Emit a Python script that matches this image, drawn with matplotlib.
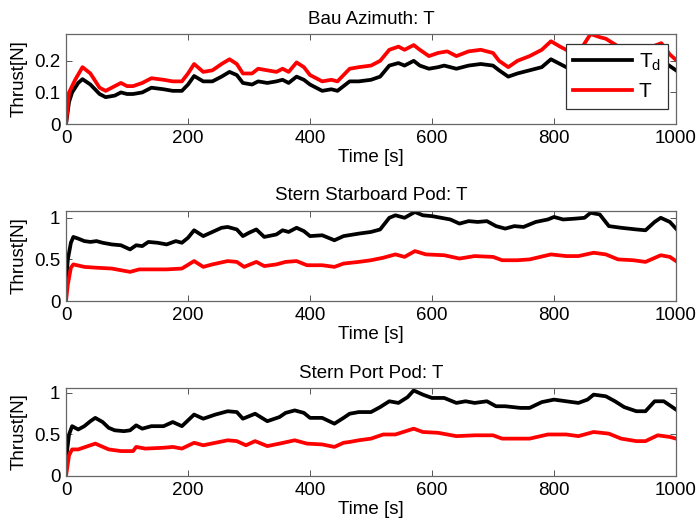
import matplotlib
matplotlib.use("Agg")
import matplotlib.pyplot as plt

plt.rcParams['font.family'] = ['Liberation Sans', 'DejaVu Sans']
plt.rcParams['font.size'] = 13.5

# Bau Azimuth: desired thrust (Td) and actual thrust (T)
bau_td_t = [0, 5, 10, 20, 27, 40, 55, 65, 80, 90, 100, 110, 125, 140, 160, 175, 190, 200,
            210, 225, 240, 255, 268, 280, 290, 305, 315, 330, 345, 355, 365, 378, 390, 400,
            420, 435, 445, 465, 480, 500, 515, 530, 545, 555, 570, 580, 595, 610, 620, 640,
            660, 680, 700, 710, 725, 740, 760, 780, 795, 810, 825, 845, 865, 885, 910, 940,
            965, 985, 1000]
bau_td = [0, 0.07, 0.10, 0.13, 0.142, 0.125, 0.095, 0.085, 0.09, 0.10, 0.095, 0.095, 0.10,
          0.115, 0.11, 0.105, 0.105, 0.125, 0.152, 0.135, 0.135, 0.15, 0.165, 0.155, 0.13,
          0.125, 0.135, 0.13, 0.135, 0.14, 0.13, 0.15, 0.14, 0.125, 0.105, 0.11, 0.105, 0.135,
          0.135, 0.14, 0.15, 0.185, 0.193, 0.185, 0.2, 0.185, 0.175, 0.18, 0.185, 0.175, 0.185,
          0.19, 0.185, 0.17, 0.15, 0.16, 0.17, 0.18, 0.205, 0.19, 0.175, 0.19, 0.215, 0.21,
          0.19, 0.18, 0.2, 0.19, 0.17]
bau_t_t = [0, 5, 15, 27, 40, 55, 65, 80, 90, 100, 110, 125, 140, 160, 175, 190, 200, 210,
           225, 240, 255, 268, 280, 290, 305, 315, 330, 345, 355, 365, 378, 390, 400, 420,
           435, 445, 465, 480, 500, 515, 530, 545, 555, 570, 580, 595, 610, 625, 640, 660,
           680, 700, 710, 725, 740, 760, 780, 795, 810, 825, 845, 860, 875, 885, 910, 940,
           976, 990, 1000]
bau_t = [0, 0.10, 0.14, 0.18, 0.16, 0.115, 0.105, 0.12, 0.13, 0.12, 0.12, 0.13, 0.145, 0.14,
         0.135, 0.135, 0.16, 0.19, 0.165, 0.17, 0.19, 0.205, 0.19, 0.16, 0.16, 0.175, 0.17,
         0.165, 0.175, 0.165, 0.195, 0.18, 0.155, 0.135, 0.14, 0.135, 0.175, 0.18, 0.185, 0.2,
         0.235, 0.245, 0.235, 0.25, 0.235, 0.215, 0.225, 0.23, 0.215, 0.23, 0.235, 0.225, 0.2,
         0.18, 0.2, 0.215, 0.235, 0.262, 0.245, 0.23, 0.24, 0.285, 0.275, 0.27, 0.24, 0.23,
         0.256, 0.22, 0.203]

# Stern Starboard Pod
sb_td_t = [0, 3, 8, 12, 20, 30, 40, 50, 60, 75, 90, 105, 115, 125, 135, 150, 165, 180, 190,
           200, 210, 225, 240, 255, 265, 280, 290, 300, 312, 325, 345, 355, 365, 378, 390,
           400, 420, 440, 455, 480, 500, 515, 530, 540, 555, 572, 585, 600, 615, 630, 645,
           660, 675, 690, 705, 720, 735, 750, 770, 790, 800, 815, 835, 850, 860, 875, 890,
           910, 935, 950, 965, 975, 990, 1000]
sb_td = [0.22, 0.5, 0.7, 0.77, 0.75, 0.72, 0.71, 0.72, 0.70, 0.68, 0.67, 0.62, 0.67, 0.66,
         0.71, 0.70, 0.68, 0.72, 0.70, 0.76, 0.85, 0.78, 0.83, 0.88, 0.89, 0.86, 0.78, 0.82,
         0.86, 0.77, 0.80, 0.85, 0.83, 0.88, 0.84, 0.78, 0.79, 0.73, 0.78, 0.81, 0.83, 0.86,
         1.0, 1.03, 1.0, 1.07, 1.03, 1.02, 1.0, 0.98, 0.93, 0.96, 0.95, 0.96, 0.90, 0.87,
         0.90, 0.89, 0.95, 0.98, 1.01, 0.98, 0.99, 1.0, 1.06, 1.04, 0.9, 0.88, 0.86, 0.85,
         0.95, 1.0, 0.95, 0.87]
sb_t_t = [0, 3, 8, 12, 30, 50, 75, 105, 120, 140, 165, 190, 210, 225, 240, 265, 280, 292,
          312, 325, 345, 360, 378, 395, 420, 440, 455, 480, 500, 520, 540, 555, 572, 590, 620,
          645, 670, 700, 715, 740, 760, 795, 820, 840, 865, 885, 905, 930, 950, 975, 990,
          1000]
sb_t = [0, 0.2, 0.4, 0.44, 0.41, 0.40, 0.39, 0.35, 0.38, 0.38, 0.38, 0.39, 0.48, 0.41, 0.44,
        0.48, 0.47, 0.41, 0.47, 0.42, 0.44, 0.47, 0.48, 0.43, 0.43, 0.41, 0.45, 0.47, 0.49,
        0.52, 0.56, 0.53, 0.60, 0.56, 0.55, 0.51, 0.54, 0.53, 0.49, 0.49, 0.50, 0.56, 0.54,
        0.54, 0.58, 0.56, 0.50, 0.49, 0.47, 0.55, 0.53, 0.48]

# Stern Port Pod
pt_td_t = [0, 5, 10, 20, 30, 40, 48, 60, 70, 80, 95, 105, 115, 125, 140, 160, 175, 190, 210,
           225, 245, 265, 280, 290, 310, 330, 350, 360, 375, 390, 400, 420, 440, 455, 465,
           480, 500, 515, 530, 545, 560, 570, 585, 600, 620, 640, 655, 670, 690, 705, 720,
           745, 760, 780, 800, 820, 840, 855, 865, 885, 900, 915, 935, 950, 965, 980, 1000]
pt_td = [0.2, 0.5, 0.6, 0.56, 0.6, 0.66, 0.70, 0.65, 0.58, 0.55, 0.54, 0.55, 0.61, 0.57,
         0.60, 0.60, 0.65, 0.60, 0.74, 0.69, 0.74, 0.78, 0.77, 0.69, 0.75, 0.66, 0.71, 0.76,
         0.79, 0.76, 0.70, 0.70, 0.63, 0.70, 0.75, 0.77, 0.77, 0.83, 0.90, 0.88, 0.95, 1.03,
         0.98, 0.94, 0.94, 0.88, 0.90, 0.88, 0.90, 0.84, 0.84, 0.82, 0.82, 0.89, 0.92, 0.90,
         0.88, 0.92, 0.98, 0.96, 0.90, 0.83, 0.78, 0.78, 0.90, 0.90, 0.80]
pt_t_t = [0, 5, 10, 20, 48, 70, 90, 110, 115, 130, 160, 175, 190, 210, 225, 245, 265, 280,
          295, 310, 330, 350, 375, 395, 420, 440, 455, 465, 480, 500, 520, 540, 570, 585, 610,
          640, 670, 700, 715, 740, 760, 790, 820, 840, 865, 890, 910, 935, 950, 970, 990, 1000]
pt_t = [0, 0.25, 0.32, 0.32, 0.39, 0.32, 0.30, 0.30, 0.35, 0.33, 0.34, 0.35, 0.33, 0.40,
        0.37, 0.40, 0.43, 0.42, 0.37, 0.42, 0.36, 0.39, 0.43, 0.39, 0.38, 0.35, 0.40, 0.41,
        0.43, 0.45, 0.50, 0.50, 0.57, 0.53, 0.52, 0.48, 0.49, 0.49, 0.45, 0.45, 0.45, 0.50,
        0.50, 0.48, 0.53, 0.51, 0.45, 0.42, 0.42, 0.49, 0.47, 0.45]

titles = ['Bau Azimuth: T', 'Stern Starboard Pod: T', 'Stern Port Pod: T']
ylims = [0.285, 1.085, 1.06]
yticks = [[0, 0.1, 0.2], [0, 0.5, 1], [0, 0.5, 1]]
ytick_labels = [['0', '0.1', '0.2'], ['0', '0.5', '1'], ['0', '0.5', '1']]
xticks = [0, 200, 400, 600, 800, 1000]

series = [(bau_td_t, bau_td, bau_t_t, bau_t),
          (sb_td_t, sb_td, sb_t_t, sb_t),
          (pt_td_t, pt_td, pt_t_t, pt_t)]

fig = plt.figure(figsize=(7, 5.32), dpi=100)
boxes = [[0.0943, 0.7669, 0.8714, 0.1692],
         [0.0943, 0.4342, 0.8714, 0.1697],
         [0.0943, 0.1053, 0.8714, 0.1654]]

for i in range(3):
    ax = fig.add_axes(boxes[i])
    td_t, td, t_t, t = series[i]
    ax.plot(td_t, td, color='black', lw=2.7, label='T$_{\\mathregular{d}}$')
    ax.plot(t_t, t, color='red', lw=2.7, label='T')
    ax.set_xlim(0, 1000)
    ax.set_ylim(0, ylims[i])
    ax.set_xticks(xticks)
    ax.set_yticks(yticks[i])
    ax.set_yticklabels(ytick_labels[i])
    ax.tick_params(direction='in', top=True, right=True, length=4, width=0.7,
                   color='#555555', labelsize=13.5, pad=4)
    for sp in ax.spines.values():
        sp.set_linewidth(0.9)
        sp.set_color('#666666')
    ax.set_title(titles[i], fontsize=13.5, pad=7.5)
    ax.set_xlabel('Time [s]', fontsize=13.5, labelpad=2)
    ax.set_ylabel('Thrust[N]', fontsize=13.5, labelpad=5)
    if i == 0:
        leg = ax.legend(loc='upper right', bbox_to_anchor=(0.987, 0.889), fontsize=15,
                        handlelength=2.85, fancybox=False, framealpha=1,
                        borderpad=0.35, labelspacing=0.45, handletextpad=0.3,
                        borderaxespad=0)
        leg.get_frame().set_edgecolor('#333333')
        leg.get_frame().set_linewidth(0.9)

fig.savefig('out.png', dpi=100)
